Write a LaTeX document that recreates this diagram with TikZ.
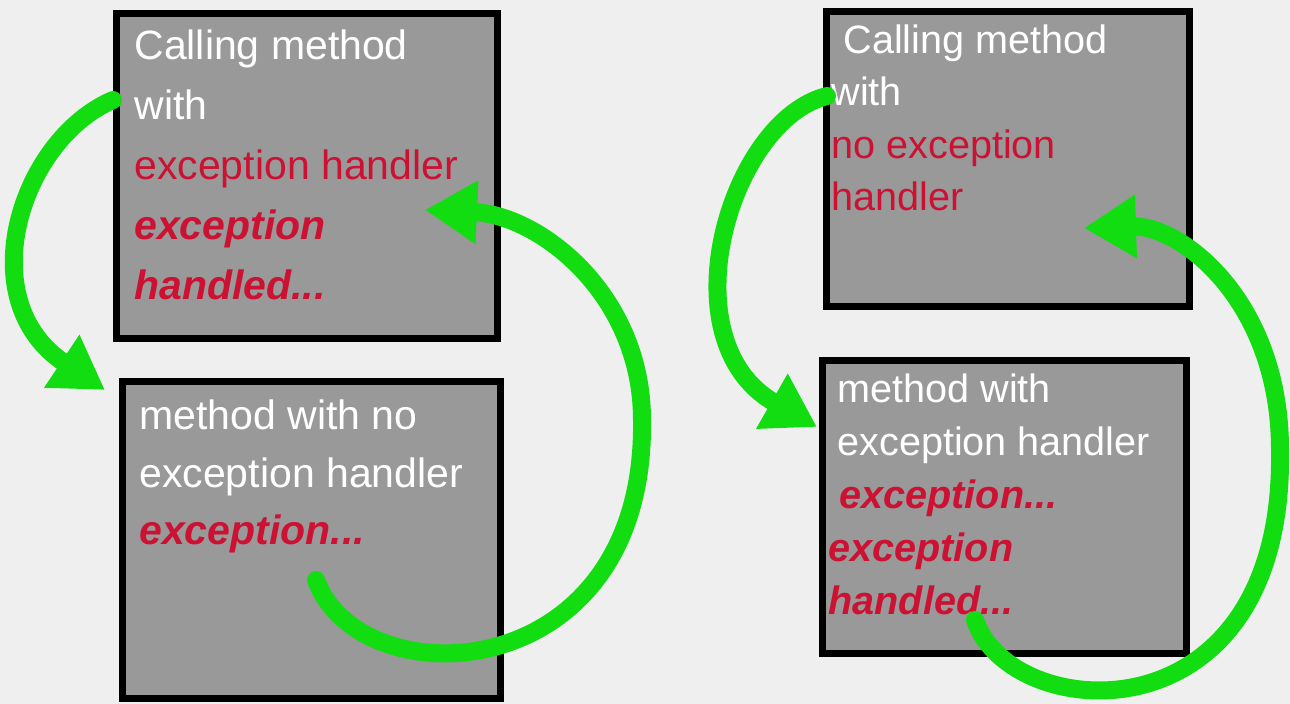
\documentclass[tikz,border=0pt]{standalone}
\usepackage{fontspec}
\setmainfont{Liberation Sans}
\usetikzlibrary{positioning, arrows.meta}
\usetikzlibrary{calc}
\definecolor{bgcol}{RGB}{239,239,239}
\definecolor{boxgray}{RGB}{153,153,153}
\definecolor{errred}{RGB}{204,17,51}
\definecolor{arrowgreen}{RGB}{17,221,17}
\tikzstyle{box} = [rectangle, draw=black, line width=3.5pt, fill=boxgray, inner sep=0pt]
\tikzstyle{txt} = [anchor=base west, align=left, inner sep=0pt, text=white]
\tikzstyle{arrow} = [line width=9pt, line cap=round, draw=arrowgreen, -{Triangle[length=26pt,width=30pt]}]
\newcommand{\exc}[1]{\textcolor{errred}{#1}}
\newcommand{\excb}[1]{\textcolor{errred}{\bfseries\itshape #1}}

\begin{document}
\begin{tikzpicture}[x=0.5pt, y=-0.5pt]
			\fill[bgcol] (0,0) rectangle (1290,704);
			\useasboundingbox (0,0) rectangle (1290,704);
			%定义方框
			\node (call1) [box, minimum width=190.5pt, minimum height=162.5pt] at (307,176) {};
			\node (meth1) [box, minimum width=189pt, minimum height=158.5pt] at (311.5,540) {};
			\node (call2) [box, minimum width=181.5pt, minimum height=147.5pt] at (1008,159) {};
			\node (meth2) [box, minimum width=182pt, minimum height=146.5pt] at (1004.5,507) {};
			
			%方框里的文字(以最后一行的基线定位)
			\node (txt1) [txt, font=\fontsize{20.5}{30}\selectfont] at (134,300) {Calling method\\with\\\exc{exception handler}\\\excb{exception}\\\excb{handled...}};
			\node (txt2) [txt, font=\fontsize{20.5}{28.75}\selectfont] at (139,545) {method with no\\exception handler\\\excb{exception...}};
			\node (txt3) [txt, font=\fontsize{19.8}{26.3}\selectfont] at (831,211) {\hspace*{6pt}Calling method\\with\\\exc{no exception}\\\exc{handler}};
			\node (txt4) [txt, font=\fontsize{19.8}{26.6}\selectfont] at (828,615) {\hspace*{4.5pt}method with\\\hspace*{4.5pt}exception handler\\\hspace*{5.5pt}\excb{exception...}\\\excb{exception}\\\excb{handled...}};
			
			%箭头端点
			\coordinate (a1) at ($(call1.north west)+(0,90)$);
			\coordinate (a2) at ($(meth1.north west)+(-14,12)$);
			\coordinate (b1) at ($(meth1.north west)+(197,202)$);
			\coordinate (bturn) at ($(meth1.north east)+(138,42)$);
			\coordinate (b2) at ($(call1.north east)+(-76,200)$);
			\coordinate (c1) at ($(call2.north west)+(4,88)$);
			\coordinate (c2) at ($(meth2.north west)+(-2,70)$);
			\coordinate (d1) at ($(meth2.north west)+(156,263)$);
			\coordinate (dturn) at ($(meth2.north east)+(90,93)$);
			\coordinate (d2) at ($(call2.north west)+(261,220)$);
			
			%连接箭头
			\draw [arrow](a1) .. controls +(-93,40) and +(-135,-90) .. (a2);
			\draw [arrow](b1) .. controls +(44,120) and +(4,270) .. (bturn) .. controls +(0,-125) and +(115,5) .. (b2);
			\draw [arrow](c1) .. controls +(-97,24) and +(-152,-87) .. (c2);
			\draw [arrow](d1) .. controls +(35,105) and +(5,295) .. (dturn) .. controls +(0,-150) and +(96,-3) .. (d2);
		\end{tikzpicture}
\end{document}
